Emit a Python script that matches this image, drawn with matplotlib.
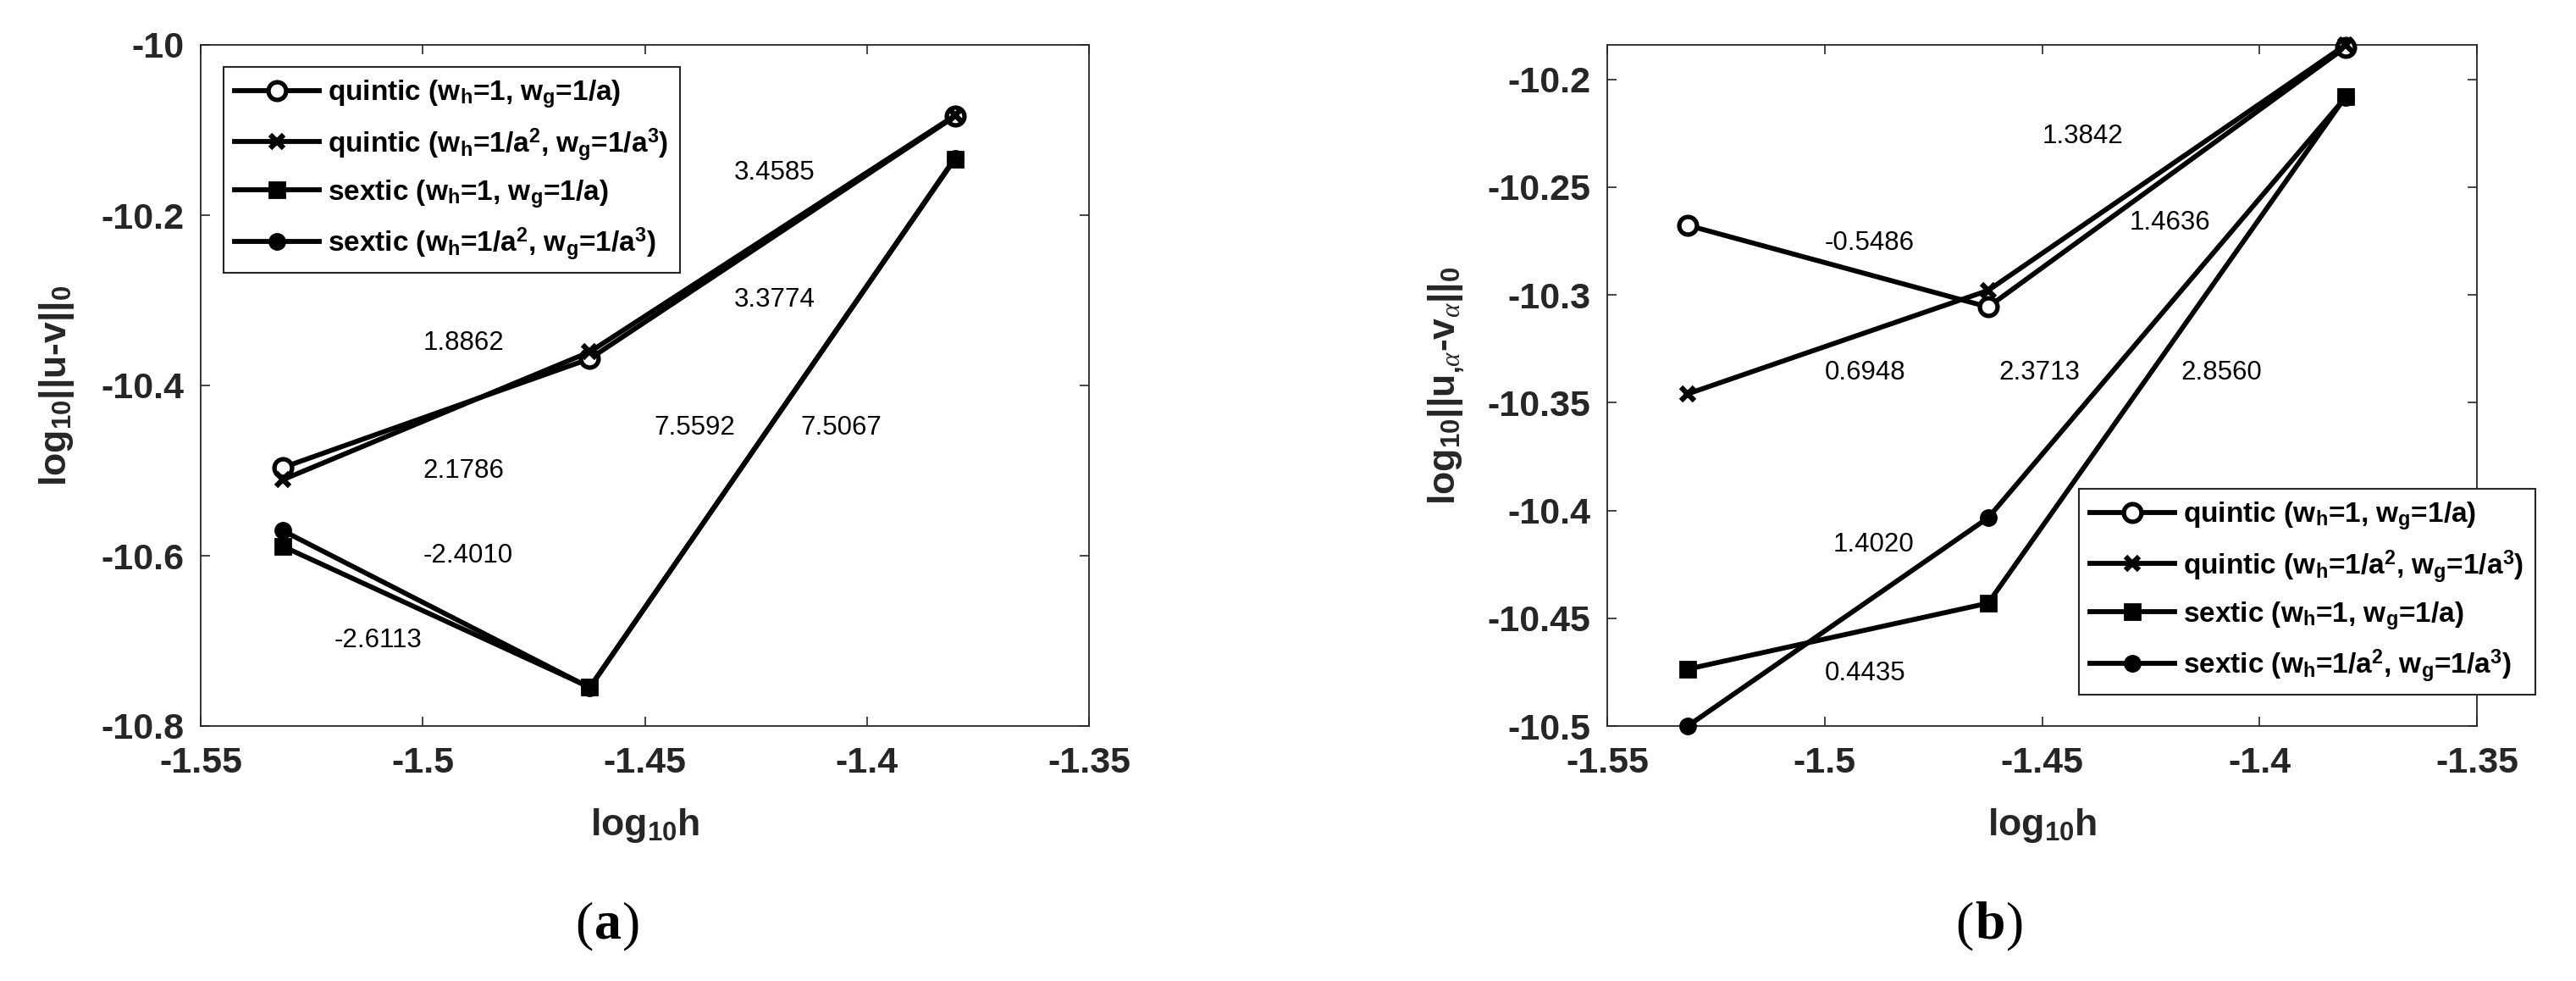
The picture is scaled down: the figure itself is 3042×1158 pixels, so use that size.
import matplotlib
matplotlib.use("Agg")
import matplotlib.pyplot as plt
from matplotlib.offsetbox import TextArea, HPacker, AnchoredOffsetbox

plt.rcParams['font.family'] = ['Liberation Sans', 'DejaVu Sans']
plt.rcParams['axes.unicode_minus'] = False
plt.rcParams['mathtext.fontset'] = 'custom'
plt.rcParams['mathtext.rm'] = 'Liberation Sans'
plt.rcParams['mathtext.bf'] = 'Liberation Sans:bold'
plt.rcParams['mathtext.it'] = 'Liberation Serif:italic'

# data (log10 h and log10 of errors)
log_h = [-1.5315, -1.4624, -1.3802]

a_quintic1 = [-10.4964, -10.3686, -10.0840]
a_quintic2 = [-10.5107, -10.3606, -10.0830]
a_sextic1 = [-10.5890, -10.7545, -10.1340]
a_sextic2 = [-10.5706, -10.7550, -10.1330]

b_quintic1 = [-10.2677, -10.3056, -10.1851]
b_quintic2 = [-10.3459, -10.2979, -10.1840]
b_sextic1 = [-10.4736, -10.4430, -10.2080]
b_sextic2 = [-10.5000, -10.4034, -10.2083]

# convergence rates written on the plots, with their anchor (data coords)
a_rates = ["3.4585", "3.3774", "1.8862", "7.5592", "7.5067", "2.1786", "-2.4010", "-2.6113"]
a_rate_x = [-1.430, -1.430, -1.500, -1.448, -1.415, -1.500, -1.500, -1.520]
a_rate_y = [-10.15, -10.30, -10.35, -10.45, -10.45, -10.50, -10.60, -10.70]

b_rates = ["1.3842", "1.4636", "-0.5486", "0.6948", "2.3713", "2.8560", "1.4020", "0.4435"]
b_rate_x = [-1.450, -1.430, -1.500, -1.500, -1.460, -1.418, -1.498, -1.500]
b_rate_y = [-10.2266, -10.2665, -10.276, -10.336, -10.336, -10.336, -10.416, -10.4758]

labels = [r"quintic (w$_\mathbf{h}$=1, w$_\mathbf{g}$=1/a)",
          r"quintic (w$_\mathbf{h}$=1/a$^\mathbf{2}$, w$_\mathbf{g}$=1/a$^\mathbf{3}$)",
          r"sextic (w$_\mathbf{h}$=1, w$_\mathbf{g}$=1/a)",
          r"sextic (w$_\mathbf{h}$=1/a$^\mathbf{2}$, w$_\mathbf{g}$=1/a$^\mathbf{3}$)"]

xticks = [-1.55, -1.5, -1.45, -1.4, -1.35]
xticklabels = ["-1.55", "-1.5", "-1.45", "-1.4", "-1.35"]
a_yticks = [-10.8, -10.6, -10.4, -10.2, -10.0]
a_yticklabels = ["-10.8", "-10.6", "-10.4", "-10.2", "-10"]
b_yticks = [-10.5, -10.45, -10.4, -10.35, -10.3, -10.25, -10.2]
b_yticklabels = ["-10.5", "-10.45", "-10.4", "-10.35", "-10.3", "-10.25", "-10.2"]

W, H = 3042, 1158
fig = plt.figure(figsize=(W / 100, H / 100), dpi=100)
axa = fig.add_axes([237 / W, 1 - 857 / H, 1049 / W, 804 / H])
axb = fig.add_axes([1898 / W, 1 - 857 / H, 1027 / W, 804 / H])

styles = [dict(marker="o", ms=15, mew=3.8, mfc="white", mec="black"),
          dict(marker="x", ms=11, mew=4.5, mec="black"),
          dict(marker="s", ms=13, mew=2, mfc="black", mec="black"),
          dict(marker="o", ms=14, mew=1, mfc="black", mec="black")]

grey = "#262626"


def draw(ax, series, rates, rx, ry, ylabel, yticks, yticklabels, legend_xy):
    handles = []
    for ys, st, lab in zip(series, styles, labels):
        h, = ax.plot(log_h, ys, color="black", lw=4.2, label=lab, clip_on=False, zorder=3, **st)
        handles.append(h)
    for t, x, y in zip(rates, rx, ry):
        ax.text(x, y, t, fontsize=22.5, ha="left", va="center", color="black")
    ax.set_xlim(-1.55, -1.35)
    ax.set_xticks(xticks)
    ax.set_xticklabels(xticklabels)
    ax.set_yticks(yticks)
    ax.set_yticklabels(yticklabels)
    ax.tick_params(direction="in", length=8, width=1.2, top=True, right=True,
                   labelsize=31, colors=grey)
    ax.tick_params(axis="x", pad=17)
    ax.tick_params(axis="y", pad=14)
    for lbl in ax.get_xticklabels() + ax.get_yticklabels():
        lbl.set_fontweight("bold")
    for sp in ax.spines.values():
        sp.set_linewidth(1.3)
        sp.set_color(grey)
    ax.set_xlabel(r"log$_\mathbf{10}$h", fontsize=32, fontweight="bold", color=grey)
    ax.xaxis.set_label_coords(0.5, -0.118)
    ax.set_ylabel(ylabel, fontsize=32, fontweight="bold", color=grey)
    leg = fig.legend(handles=handles, loc="upper left", bbox_to_anchor=legend_xy,
                     bbox_transform=fig.transFigure, fontsize=24, frameon=True,
                     fancybox=False, framealpha=1, edgecolor=grey, handlelength=3.0,
                     handletextpad=0.3, labelspacing=0.55, borderpad=0.4, borderaxespad=0)
    leg.get_frame().set_linewidth(1.5)
    for t in leg.get_texts():
        t.set_fontweight("bold")
    return ax


draw(axa, [a_quintic1, a_quintic2, a_sextic1, a_sextic2], a_rates, a_rate_x, a_rate_y,
     r"log$_\mathbf{10}$||u-v||$_\mathbf{0}$", a_yticks, a_yticklabels, (264 / W, 1 - 79 / H))
axa.set_ylim(-10.8, -10.0)
axa.yaxis.set_label_coords(-0.14, 0.5)

bdata = [b_quintic1, b_quintic2, b_sextic1, b_sextic2]
draw(axb, bdata, b_rates, b_rate_x, b_rate_y,
     r"log$_\mathbf{10}$||u$_{\mathbf{,}\alpha}$-v$_{\alpha}$||$_\mathbf{0}$",
     b_yticks, b_yticklabels, (2455 / W, 1 - 577 / H))
axb.set_ylim(min(min(s) for s in bdata), max(max(s) for s in bdata))
axb.yaxis.set_label_coords(-0.162, 0.5)


def panel_tag(letter, xfrac):
    parts = [TextArea("(", textprops=dict(fontsize=46, family="Liberation Serif")),
             TextArea(letter, textprops=dict(fontsize=46, family="Liberation Serif", fontweight="bold")),
             TextArea(")", textprops=dict(fontsize=46, family="Liberation Serif"))]
    box = HPacker(children=parts, align="baseline", pad=0, sep=1)
    anch = AnchoredOffsetbox(loc="center", child=box, pad=0, frameon=False,
                             bbox_to_anchor=(xfrac, 1 - 1093 / H), bbox_transform=fig.transFigure)
    fig.add_artist(anch)


panel_tag("a", 718 / W)
panel_tag("b", 2350 / W)

fig.savefig("out.png", dpi=100)
